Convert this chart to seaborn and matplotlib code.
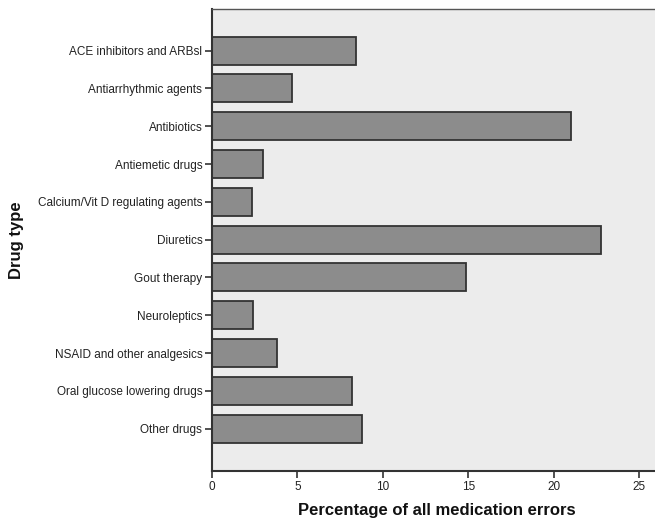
import pandas as pd
import matplotlib.pyplot as plt
import seaborn as sns

# Values
drug_types = [
    "ACE inhibitors and ARBsl",
    "Antiarrhythmic agents",
    "Antibiotics",
    "Antiemetic drugs",
    "Calcium/Vit D regulating agents",
    "Diuretics",
    "Gout therapy",
    "Neuroleptics",
    "NSAID and other analgesics",
    "Oral glucose lowering drugs",
    "Other drugs",
]
pct_errors = [8.45, 4.7, 21.0, 2.96, 2.35, 22.77, 14.87, 2.37, 3.78, 8.19, 8.77]
x_ticks = [0, 5, 10, 15, 20, 25]

df = pd.DataFrame({"drug": drug_types, "pct": pct_errors})

sns.set_theme(style="white")
plt.rcParams['font.family'] = ['Liberation Sans', 'DejaVu Sans']

fig = plt.figure(figsize=(6.55, 5.24), dpi=100)
ax = fig.add_axes([212 / 655, 53 / 524, (660 - 212) / 655, 462 / 524])
ax.set_facecolor('#ececec')

sns.barplot(data=df, x="pct", y="drug", orient="h", color='#8c8c8c',
            saturation=1, width=0.74, edgecolor='#333333', linewidth=1.3, ax=ax)

ax.set_xlim(0, 26.2)
ax.set_ylim(10 + 1.12, -1.1)
ax.set_xticks(x_ticks)
ax.set_xticklabels([str(t) for t in x_ticks], fontsize=8.5, color='#222222')
ax.tick_params(axis='y', labelsize=8.5, labelcolor='#222222')
ax.tick_params(axis='both', direction='out', length=5, width=1.2, color='#333333',
               left=True, bottom=True, pad=2)

for side in ['left', 'bottom']:
    ax.spines[side].set_color('#333333')
    ax.spines[side].set_linewidth(1.5)
ax.spines['top'].set_color('#555555')
ax.spines['top'].set_linewidth(1.0)
ax.spines['right'].set_visible(False)

ax.set_xlabel("Percentage of all medication errors", fontsize=12, fontweight='bold',
              color='#111111', va='top')
ax.set_ylabel("Drug type", fontsize=12, fontweight='bold', color='#111111', va='bottom')
ax.xaxis.set_label_coords((437 - 212) / (660 - 212), -(503 - 471) / 462)
ax.yaxis.set_label_coords(-(212 - 24) / (660 - 212), 0.5)

fig.savefig('out.png', dpi=100)
